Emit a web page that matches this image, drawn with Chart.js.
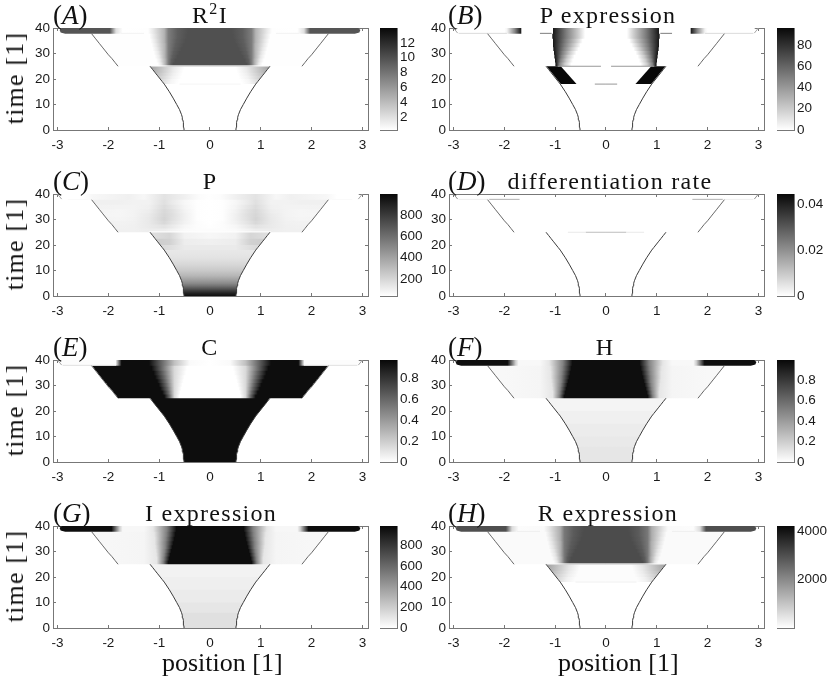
<!DOCTYPE html>
<html>
<head>
  <title>Pattern simulation panels</title>
  <script src="https://cdn.jsdelivr.net/npm/chart.js"></script>
  <style>
    body { margin: 0; background: #fff; }
    #page { position: relative; width: 830px; height: 678px; overflow: hidden; }
    canvas { position: absolute; }
    .txt { position: absolute; font-family: "Liberation Serif", serif; color: #111; white-space: nowrap; line-height: 1; }
    .letter { font-size: 27px; }
    .title { font-size: 24px; letter-spacing: 1.3px; transform: translateX(-50%); }
    .title sup { font-size: 16px; line-height: 0; }
    .axis { font-size: 26px; }
    .ylab { letter-spacing: 1.2px; transform: translate(-50%, -50%) rotate(-90deg); }
  </style>
</head>
<body>
<div id="page"></div>
<script>
  const xTicks = [-3, -2, -1, 0, 1, 2, 3];
  const yTicks = [0, 10, 20, 30, 40];

  // outline of the tissue
  const lowerTimes = [0, 1, 2, 3, 4, 5, 6, 8, 10, 12.5, 15, 18, 19, 20, 21.25, 22.5, 23.75, 25];
  const lowerWidths = [.51, .515, .52, .527, .535, .545, .56, .6, .655, .725, .8, .9, .94, .98, 1.03, 1.08, 1.13, 1.18];
  const midTimes = [25, 26.5, 28, 29.5, 31, 32.5, 34, 35.75, 37.75];
  const midWidths = [1.81, 1.87, 1.93, 2, 2.06, 2.12, 2.18, 2.25, 2.33];
  const topTimes = [37.75, 38.2, 39.2, 40];
  const topWidths = [2.85, 2.94, 2.96, 2.9];

  const titles = ['R<sup>2</sup>I', 'P expression', 'P', 'differentiation rate', 'C', 'H', 'I expression', 'R expression'];
  const letters = ['A', 'B', 'C', 'D', 'E', 'F', 'G', 'H'];
  const colorMins = [.25, 0, 40, 0, 0, 0, 0, 10];
  const colorMaxs = [14, 96, 1000, .0447, .98, .995, 987, 4218];
  const colorTicks = [
    [2, 4, 6, 8, 10, 12],
    [0, 20, 40, 60, 80],
    [200, 400, 600, 800],
    [0, .02, .04],
    [0, .2, .4, .6, .8],
    [0, .2, .4, .6, .8],
    [0, 200, 400, 600, 800],
    [2000, 4000]
  ];

  // where the grey ramp in the middle zone sits, one entry per row of midTimes
  const ramDark = [.72, .68, .64, .6, .56, .52, .48, .45];
  const ramNear = [.77, .76, .74, .72, .7, .68, .66, .64];
  const ramDeep = [.82, .82, .82, .82, .82, .82, .82, .82];
  const ramMid = [.88, .88, .89, .89, .89, .89, .9, .9];
  const ramLight = [.96, .98, 1, 1.02, 1.04, 1.06, 1.08, 1.1];
  const ramPale = [1.03, 1.06, 1.09, 1.11, 1.13, 1.15, 1.17, 1.19];

  // same idea for the fading band just below t=25, rows of lowerTimes from 18 up
  const fadeStart = [.62, .6, .56, .54, .52, .5];
  const fadeMid = [.78, .76, .74, .72, .72, .72];
  const fadeEdge = [.94, .97, 1.02, 1.07, 1.12, 1.18];
  const fadeMidA = [.8, .8, 1, 1.1, 1.3, 1.5];
  const fadeEdgeA = [2, 2.5, 3.2, 4, 4.8, 5.5];
  const fadeMidH = [250, 250, 300, 330, 400, 450];
  const fadeEdgeH = [600, 750, 950, 1200, 1450, 1650];

  const pWhite = [.68, .65, .62, .58, .54, .5, .46, .41];
  const pLow = [.81, .78, .75, .71, .67, .63, .59, .55];
  const pHigh = [.92, .9, .88, .86, .84, .82, .8, .78];
  const pEdge = [.98, .99, 1, 1.01, 1.02, 1.03, 1.03, 1.04];

  const cWhite = [.6, .58, .56, .54, .52, .5, .47, .45];
  const cLow = [.7, .7, .7, .7, .7, .7, .7, .7];
  const cHalf = [.8, .82, .84, .86, .88, .9, .92, .95];
  const cFull = [.9, .94, .98, 1.01, 1.04, 1.08, 1.11, 1.15];

  const hDark = [.82, .8, .78, .76, .74, .72, .7, .68];
  const hHalf = [.92, .91, .9, .89, .88, .88, .87, .86];
  const hFaint = [1.05, 1.05, 1.06, 1.07, 1.08, 1.09, 1.09, 1.1];

  // panel P, middle zone: values at fixed positions, one row per midTimes row
  const pPanelPositions = [0, .25, .5, .75, .9, 1.2, 1.5, 1.8, 2.33];
  const pPanelRows = [
    [50, 50, 60, 90, 110, 110, 100, 100, 110],
    [45, 50, 70, 120, 150, 120, 100, 95, 100],
    [40, 50, 90, 150, 190, 125, 95, 90, 95],
    [40, 45, 100, 165, 205, 125, 90, 80, 85],
    [40, 45, 100, 170, 200, 120, 85, 75, 80],
    [40, 45, 90, 160, 190, 110, 85, 75, 85],
    [40, 45, 80, 140, 175, 100, 85, 85, 90],
    [40, 45, 70, 120, 160, 90, 90, 100, 100]
  ];
  const pBaseTimes = [0, 1, 2, 3, 4, 5, 6, 8, 10, 12.5, 15, 18];
  const pBaseValues = [970, 900, 800, 690, 580, 490, 430, 320, 250, 190, 150, 130];

  // patches: region, first level, last level, positions, values at those positions (mirrored at x=0)
  const patchesA = [
    ...fadeStart.map((s, i) => ['lower', 11 + i, 12 + i, [0, s, fadeMid[i], fadeEdge[i]], [.25, .25, fadeMidA[i], fadeEdgeA[i]]]),
    ...ramDark.map((d, i) => ['mid', i, i + 1, [0, d, ramNear[i], ramDeep[i], ramMid[i], ramLight[i], ramPale[i]], [10, 10, 9.2, 7.5, 4.5, 1.5, .3]]),
    ['top', 0, 3, [0, .43, .64, .82, .9, 1.12, 1.22, 1.72, 1.85, 1.97, 2.96], [10, 10, 9.2, 7.5, 4.5, 1.5, .3, .25, 2, 9.7, 9.7]]
  ];
  const patchesB = [
    ...pWhite.map((d, i) => ['mid', i, i + 1, [0, d, pLow[i], pHigh[i], pEdge[i], pEdge[i] + .01, pEdge[i] + .02], [0, 0, 20, 50, 88, 90, 0]]),
    ['top', 0, 3, [0, .41, .55, .78, 1.03, 1.04, 1.05, 1.66, 1.67, 1.8, 1.95, 2], [0, 0, 20, 50, 88, 90, 0, 0, 90, 45, 4, 0]]
  ];
  const polysB = [[[.58, 18], [.89, 18], [1.17, 25], [.89, 25], [.58, 18]]];
  const patchesC = [
    ['vertical', 0, 11, pBaseTimes, pBaseValues],
    ['lower', 11, 13, [0, .5, .8, 1], [120, 120, 170, 190]],
    ['lower', 13, 15, [0, .5, .8, 1.05], [100, 110, 220, 230]],
    ['lower', 15, 17, [0, .5, .8, 1.2], [70, 90, 200, 160]],
    ...pPanelRows.map((r, i) => ['mid', i, i + 1, pPanelPositions, r]),
    ['top', 0, 3, [0, .2, .5, .9, 1.3, 1.6, 2.3, 2.5], [45, 50, 100, 150, 70, 100, 70, 40]]
  ];
  const patchesE = [
    ['lower', 0, 17, [0], [.96]],
    ...cWhite.map((d, i) => ['mid', i, i + 1, [0, d, cLow[i], cHalf[i], cFull[i]], [0, 0, .15, .6, .96]]),
    ['top', 0, 3, [0, .4, .7, .95, 1.2, 1.74, 1.8, 1.86], [0, .02, .25, .6, .96, .96, .5, .01]]
  ];
  const patchesF = [
    ['lower', 0, 6, [0], [.1]], ['lower', 6, 8, [0], [.09]], ['lower', 8, 10, [0], [.075]],
    ['lower', 10, 13, [0], [.06]], ['lower', 13, 17, [0], [.045]],
    ...hDark.map((d, i) => ['mid', i, i + 1, [0, d, hHalf[i], hFaint[i], 1.3, 2], [.97, .97, .5, .1, .04, .03]]),
    ['top', 0, 3, [0, .66, .85, 1.12, 1.3, 1.72, 1.78, 1.94, 2.96], [.97, .97, .5, .1, .03, .03, .2, .97, .97]]
  ];
  const patchesG = [
    ['lower', 0, 6, [0], [125]], ['lower', 6, 8, [0], [100]], ['lower', 8, 10, [0], [80]],
    ['lower', 10, 13, [0], [65]], ['lower', 13, 17, [0], [50]],
    ...hDark.map((d, i) => ['mid', i, i + 1, [0, d, hHalf[i], hFaint[i], 1.3, 2], [965, 965, 500, 100, 40, 30]]),
    ['top', 0, 3, [0, .66, .85, 1.12, 1.3, 1.72, 1.78, 1.94, 2.96], [965, 965, 500, 100, 30, 30, 200, 965, 965]]
  ];
  const patchesH = [
    ...fadeStart.map((s, i) => ['lower', 11 + i, 12 + i, [0, s, fadeMid[i], fadeEdge[i]], [60, 60, fadeMidH[i], fadeEdgeH[i]]]),
    ...ramDark.map((d, i) => ['mid', i, i + 1, [0, d, ramNear[i], ramDeep[i], ramMid[i], ramLight[i], ramPale[i]], [3050, 3050, 2800, 2300, 1400, 450, 90]]),
    ['top', 0, 3, [0, .43, .64, .82, .9, 1.12, 1.22, 1.72, 1.85, 1.97, 2.96], [3050, 3050, 2800, 2300, 1400, 450, 90, 60, 600, 3000, 3000]]
  ];
  const allPatches = [patchesA, patchesB, patchesC, [], patchesE, patchesF, patchesG, patchesH];
  const allPolys = [[], polysB, [], [], [], [], [], []];

  // thin streaks: t0, x0, t1, x1, value
  const thinA = [[37.9, 1.3, 37.9, 1.75, 1], [18, 0, 18, .6, .8], [25.15, 0, 25.15, 1.2, .4]];
  const thinB = [[38, 2.92, 40, 3, 35], [37.9, 1.07, 37.9, 1.3, 50], [37.9, 1.95, 37.9, 2.9, 14], [25, .1, 25, .95, 40], [18, 0, 18, .22, 40]];
  const thinC = [[38, 2.92, 40, 3, 400], [37.9, 2.4, 37.9, 2.8, 60], [25.15, 0, 25.15, 1.2, 45]];
  const thinD = [[38, 2.92, 40, 3, .02], [37.9, 1.7, 37.9, 2.3, .014], [37.9, 2.3, 37.9, 2.9, .003], [25, 0, 25, .4, .012], [25, .4, 25, .75, .004]];
  const thinE = [[38, 2.92, 40, 3, .35], [37.9, 1.85, 37.9, 2.9, .12]];
  const thinF = [];
  const thinG = [];
  const thinH = [[37.9, 1.3, 37.9, 1.75, 300], [18, 0, 18, .6, 250], [25.15, 0, 25.15, 1.2, 120]];
  const allThin = [thinA, thinB, thinC, thinD, thinE, thinF, thinG, thinH];

  const plotLefts = [53, 449];
  const plotRights = [368, 764];
  const barLefts = [380, 777];
  const rowTops = [27.5, 193.5, 359.5, 525.5];
  const rowBottoms = [129.5, 295.5, 461.5, 627.5];
  const titleCenters = [210, 608, 210, 610, 210, 605, 211, 608];

  const page = document.getElementById('page');
  const frame = '#777';
  const xMin = -3.09, xMax = 3.11;

  function grayOf(v, lo, hi) {
    const f = Math.min(1, Math.max(0, (v - lo) / (hi - lo)));
    const g = Math.round(255 * (1 - f * .97));
    return 'rgb(' + g + ',' + g + ',' + g + ')';
  }

  function regionOutline(name, i0, i1) {
    const times = name === 'mid' ? midTimes : name === 'top' ? topTimes : lowerTimes;
    const widths = name === 'mid' ? midWidths : name === 'top' ? topWidths : lowerWidths;
    const pts = [];
    // a little overlap upward so rows do not leave a seam
    for (let i = i0; i <= i1; i++) pts.push({ x: widths[i], y: times[i] + (i === i1 ? .35 : 0) });
    for (let i = i1; i >= i0; i--) pts.push({ x: -widths[i], y: times[i] + (i === i1 ? .35 : 0) });
    pts.push(pts[0]);
    return pts;
  }

  function patchFill(xs, vs, lo, hi) {
    return ctx => {
      const chart = ctx.chart;
      if (!chart.chartArea) return 'transparent';
      const sx = chart.scales.x;
      const span = 3.2;
      const g = chart.ctx.createLinearGradient(sx.getPixelForValue(-span), 0, sx.getPixelForValue(span), 0);
      for (let i = xs.length - 1; i >= 0; i--) g.addColorStop((span - xs[i]) / (2 * span), grayOf(vs[i], lo, hi));
      for (let i = 0; i < xs.length; i++) g.addColorStop((span + xs[i]) / (2 * span), grayOf(vs[i], lo, hi));
      return g;
    };
  }

  function verticalFill(ts, vs, lo, hi) {
    return ctx => {
      const chart = ctx.chart;
      if (!chart.chartArea) return 'transparent';
      const sy = chart.scales.y;
      const first = ts[0], last = ts[ts.length - 1];
      const g = chart.ctx.createLinearGradient(0, sy.getPixelForValue(first), 0, sy.getPixelForValue(last));
      ts.forEach((t, i) => g.addColorStop((t - first) / (last - first), grayOf(vs[i], lo, hi)));
      return g;
    };
  }

  function shape(data, bg) {
    return { data: data, showLine: true, fill: 'shape', backgroundColor: bg, borderWidth: 0, pointRadius: 0, tension: 0 };
  }
  function stroke(data, color, width) {
    return { data: data, showLine: true, fill: false, borderColor: color, borderWidth: width, pointRadius: 0, tension: 0 };
  }

  function fixedTicks(list) {
    return scale => { scale.ticks = list.map(v => ({ value: v })); };
  }

  function panelDatasets(p) {
    const lo = colorMins[p], hi = colorMaxs[p];
    const sets = [];
    allPatches[p].forEach(r => {
      const fillFn = r[0] === 'vertical' ? verticalFill : patchFill;
      sets.push(shape(regionOutline(r[0], r[1], r[2]), fillFn(r[3], r[4], lo, hi)));
    });
    allPolys[p].forEach(poly => {
      sets.push(shape(poly.map(q => ({ x: q[0], y: q[1] })), grayOf(hi, lo, hi)));
      sets.push(shape(poly.map(q => ({ x: -q[0], y: q[1] })), grayOf(hi, lo, hi)));
    });
    allThin[p].forEach(s => {
      sets.push(stroke([{ x: s[1], y: s[0] }, { x: s[3], y: s[2] }], grayOf(s[4], lo, hi), 1));
      sets.push(stroke([{ x: -s[1], y: s[0] }, { x: -s[3], y: s[2] }], grayOf(s[4], lo, hi), 1));
    });
    [1, -1].forEach(side => {
      sets.push(stroke(lowerTimes.map((t, i) => ({ x: side * lowerWidths[i], y: t })), '#3a3a3a', 1));
      sets.push(stroke(midTimes.map((t, i) => ({ x: side * midWidths[i], y: t })), '#555', .9));
    });
    sets.forEach((d, i) => { d.order = 1000 - i; });
    return sets;
  }

  function boxScale(position, extra, size, labels) {
    const horizontal = position === 'top' || position === 'bottom';
    return Object.assign({
      type: 'linear',
      position: position,
      border: { color: frame, width: 1 },
      grid: { drawOnChartArea: false, drawTicks: true, tickLength: -3, color: frame, lineWidth: 1 },
      ticks: {
        display: labels,
        padding: horizontal ? 10 : 6,
        color: '#1a1a1a',
        maxRotation: 0,
        autoSkip: false,
        font: { family: 'Liberation Sans', size: 13.5 },
        callback: v => String(v)
      },
      afterFit: s => {
        if (horizontal) s.height = size; else s.width = size;
        s.paddingTop = s.paddingBottom = s.paddingLeft = s.paddingRight = 0;
      }
    }, extra);
  }

  function addCanvas(left, top, w, h) {
    const c = document.createElement('canvas');
    c.width = w; c.height = h;
    c.style.left = left + 'px';
    c.style.top = top + 'px';
    c.style.width = w + 'px';
    c.style.height = h + 'px';
    page.appendChild(c);
    return c;
  }

  function addText(cls, html, left, top) {
    const d = document.createElement('div');
    d.className = 'txt ' + cls;
    d.innerHTML = html;
    d.style.left = left + 'px';
    d.style.top = top + 'px';
    page.appendChild(d);
  }

  const baseOptions = {
    responsive: false,
    animation: false,
    layout: { padding: 0 },
    plugins: { legend: { display: false }, tooltip: { enabled: false } }
  };

  for (let p = 0; p < 8; p++) {
    const col = p % 2, row = (p - col) / 2;
    const pl = plotLefts[col], pr = plotRights[col];
    const pt = rowTops[row], pb = rowBottoms[row];
    const padL = 40, padR = 6, padT = 6, padB = 24;
    const w = pr - pl + padL + padR, h = pb - pt + padT + padB;

    new Chart(addCanvas(pl - padL, pt - padT, w, h), {
      type: 'scatter',
      data: { datasets: panelDatasets(p) },
      options: Object.assign({}, baseOptions, {
        scales: {
          x: boxScale('bottom', { min: xMin, max: xMax, afterBuildTicks: fixedTicks(xTicks) }, padB, true),
          xTop: boxScale('top', { min: xMin, max: xMax, afterBuildTicks: fixedTicks(xTicks) }, padT, false),
          y: boxScale('left', { min: 0, max: 40, afterBuildTicks: fixedTicks(yTicks) }, padL, true),
          yRight: boxScale('right', { min: 0, max: 40, afterBuildTicks: fixedTicks(yTicks) }, padR, false)
        }
      })
    });

    // colour bar beside the panel
    const bl = barLefts[col], lo = colorMins[p], hi = colorMaxs[p];
    const bw = 17, bPadR = 46;
    new Chart(addCanvas(bl - 6, pt - padT, bw + 6 + bPadR, h), {
      type: 'scatter',
      data: {
        datasets: [shape(
          [{ x: 0, y: lo }, { x: 1, y: lo }, { x: 1, y: hi }, { x: 0, y: hi }, { x: 0, y: lo }],
          ctx => {
            const chart = ctx.chart;
            if (!chart.chartArea) return 'transparent';
            const sy = chart.scales.y;
            const g = chart.ctx.createLinearGradient(0, sy.getPixelForValue(lo), 0, sy.getPixelForValue(hi));
            g.addColorStop(0, grayOf(lo, lo, hi));
            g.addColorStop(1, grayOf(hi, lo, hi));
            return g;
          }
        )]
      },
      options: Object.assign({}, baseOptions, {
        scales: {
          x: boxScale('bottom', { min: 0, max: 1, afterBuildTicks: fixedTicks([]) }, padB, false),
          xTop: boxScale('top', { min: 0, max: 1, afterBuildTicks: fixedTicks([]) }, padT, false),
          yLeft: boxScale('left', { min: lo, max: hi, afterBuildTicks: fixedTicks([]) }, 6, false),
          y: boxScale('right', { min: lo, max: hi, afterBuildTicks: fixedTicks(colorTicks[p]) }, bPadR, true)
        }
      })
    });

    addText('letter', '(<i>' + letters[p] + '</i>)', pl - (col ? 1 : 0), pt - 26);
    addText('title', titles[p], titleCenters[p], pt - 25);
    if (col === 0) addText('axis ylab', 'time [1]', 15, (pt + pb) / 2 - 1);
    if (row === 3) addText('axis', 'position [1]', col ? 558 : 162, 650);
  }
</script>
</body>
</html>
